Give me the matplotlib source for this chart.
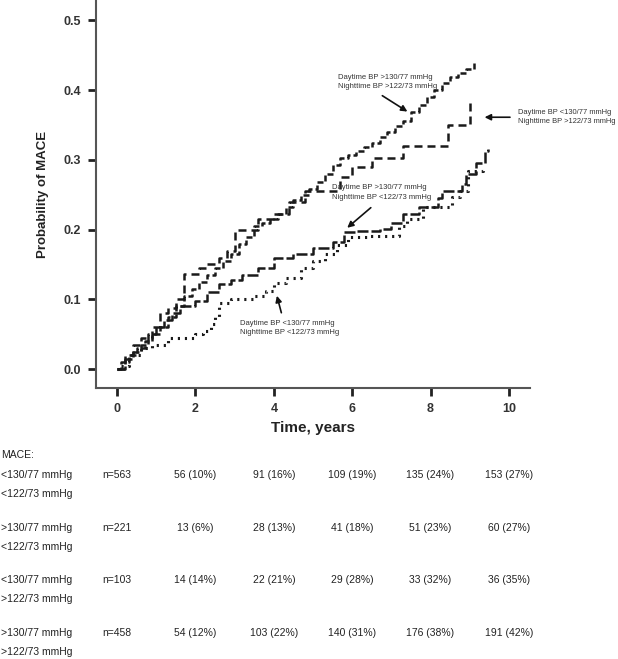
import matplotlib
matplotlib.use("Agg")
import matplotlib.pyplot as plt
from matplotlib.transforms import blended_transform_factory

plt.rcParams['font.family'] = ['Liberation Sans', 'DejaVu Sans']

# Kaplan-Meier style curves (time in years, cumulative probability of MACE)
t_hi_hi = [0, 0.1, 0.3, 0.5, 0.7, 0.9, 1.1, 1.3, 1.5, 1.7, 1.9, 2.1, 2.3, 2.5, 2.7, 2.9,
           3.1, 3.3, 3.5, 3.7, 3.9, 4.1, 4.3, 4.5, 4.7, 4.9, 5.1, 5.3, 5.5, 5.7, 5.9, 6.1,
           6.3, 6.5, 6.7, 6.9, 7.1, 7.3, 7.5, 7.7, 7.9, 8.1, 8.3, 8.5, 8.7, 8.9, 9.1]
p_hi_hi = [0, 0.01, 0.02, 0.03, 0.04, 0.05, 0.06, 0.075, 0.09, 0.105, 0.115, 0.125, 0.135,
           0.145, 0.155, 0.165, 0.18, 0.19, 0.205, 0.21, 0.215, 0.222, 0.232, 0.242, 0.25,
           0.258, 0.268, 0.28, 0.292, 0.302, 0.307, 0.312, 0.318, 0.324, 0.332, 0.34, 0.348,
           0.355, 0.368, 0.378, 0.39, 0.4, 0.41, 0.418, 0.425, 0.43, 0.44]

t_lo_hi = [0, 0.2, 0.4, 0.6, 0.9, 1.1, 1.3, 1.5, 1.7, 2.1, 2.3, 2.6, 2.8, 3.0, 3.6, 4.0,
           4.4, 4.8, 5.7, 6.0, 6.5, 7.3, 8.45, 9.02]
p_lo_hi = [0, 0.02, 0.035, 0.045, 0.06, 0.08, 0.088, 0.1, 0.136, 0.145, 0.15, 0.16, 0.17,
           0.2, 0.215, 0.222, 0.24, 0.255, 0.275, 0.29, 0.303, 0.32, 0.35, 0.383]

t_hi_lo = [0, 0.2, 0.4, 0.6, 0.8, 1.0, 1.2, 1.4, 1.6, 2.0, 2.3, 2.6, 2.9, 3.2, 3.6, 4.0,
           4.5, 5.0, 5.5, 5.8, 6.1, 6.7, 7.0, 7.3, 7.7, 8.2, 8.3, 8.8, 8.9, 9.15, 9.4, 9.47]
p_hi_lo = [0, 0.015, 0.025, 0.035, 0.05, 0.06, 0.07, 0.08, 0.09, 0.098, 0.11, 0.122, 0.128,
           0.135, 0.145, 0.16, 0.165, 0.174, 0.182, 0.196, 0.198, 0.201, 0.21, 0.222, 0.232,
           0.245, 0.255, 0.266, 0.28, 0.296, 0.313, 0.315]

t_lo_lo = [0, 0.1, 0.3, 0.6, 0.9, 1.3, 1.8, 2.0, 2.2, 2.4, 2.5, 2.6, 2.9, 3.5, 3.8, 4.0,
           4.3, 4.7, 5.0, 5.3, 5.6, 5.9, 6.4, 7.2, 7.4, 7.8, 8.55, 8.75, 8.95, 9.35]
p_lo_lo = [0, 0.005, 0.02, 0.03, 0.035, 0.045, 0.045, 0.05, 0.055, 0.065, 0.075, 0.095, 0.1,
           0.105, 0.112, 0.123, 0.13, 0.145, 0.155, 0.165, 0.178, 0.189, 0.191, 0.205, 0.215,
           0.232, 0.246, 0.255, 0.284, 0.287]

# table of events below the plot
table_times = [0, 2, 4, 6, 8, 10]
row_day = ["<130/77 mmHg", ">130/77 mmHg", "<130/77 mmHg", ">130/77 mmHg"]
row_night = ["<122/73 mmHg", "<122/73 mmHg", ">122/73 mmHg", ">122/73 mmHg"]
n_total = [563, 221, 103, 458]
events = [[56, 91, 109, 135, 153],
          [13, 28, 41, 51, 60],
          [14, 22, 29, 33, 36],
          [54, 103, 140, 176, 191]]
pcts = [[10, 16, 19, 24, 27],
        [6, 13, 18, 23, 27],
        [14, 21, 28, 32, 35],
        [12, 22, 31, 38, 42]]

W, H = 618, 659
fig = plt.figure(figsize=(W / 100, H / 100), dpi=100)
ax = fig.add_axes([96 / W, 1 - 388 / H, (530 - 96) / W, 388 / H])

lw = 1.8
col = '#1a1a1a'
ax.plot(t_hi_hi, p_hi_hi, drawstyle='steps-post', color=col, lw=lw, linestyle=(0, (2.4, 1.2)))
ax.plot(t_lo_hi, p_lo_hi, drawstyle='steps-post', color=col, lw=lw, linestyle=(0, (3.2, 2.0)))
ax.plot(t_hi_lo, p_hi_lo, drawstyle='steps-post', color=col, lw=lw, linestyle=(0, (4.4, 1.2)))
ax.plot(t_lo_lo, p_lo_lo, drawstyle='steps-post', color=col, lw=2.2, linestyle=(0, (0.7, 1.6)))

ax.set_xlim(-0.54, 10.54)
ax.set_ylim(-0.027, 0.529)
ax.set_xticks(table_times)
ax.set_yticks([0.0, 0.1, 0.2, 0.3, 0.4, 0.5])
ax.set_yticklabels(['0.0', '0.1', '0.2', '0.3', '0.4', '0.5'])
ax.tick_params(axis='both', direction='out', length=6, width=2, color='#222222',
               labelsize=9, labelcolor='#333333', pad=5)
for lab in ax.get_xticklabels() + ax.get_yticklabels():
    lab.set_fontweight('bold')
for s in ['top', 'right']:
    ax.spines[s].set_visible(False)
for s in ['left', 'bottom']:
    ax.spines[s].set_linewidth(1.5)
    ax.spines[s].set_color('#555555')

ax.set_xlabel('Time, years', fontsize=11, fontweight='bold', color='#222222', labelpad=4)
ax.set_ylabel('Probability of MACE', fontsize=9.5, fontweight='bold', color='#222222', labelpad=10)

# annotations
akw = dict(arrowstyle='-|>', color='#111111', lw=1.2, mutation_scale=9)
tkw = dict(fontsize=5.5, color='#333333', linespacing=1.45, clip_on=False)
ax.text(5.64, 0.411, 'Daytime BP >130/77 mmHg\nNighttime BP >122/73 mmHg', va='center', **tkw)
ax.annotate('', xy=(7.47, 0.367), xytext=(6.71, 0.394), arrowprops=akw)
ax.text(10.24, 0.361, 'Daytime BP <130/77 mmHg\nNighttime BP >122/73 mmHg', va='center',
        fontsize=5.4, color='#333333', linespacing=1.45, clip_on=False)
ax.annotate('', xy=(9.31, 0.361), xytext=(10.1, 0.361), arrowprops=akw, annotation_clip=False)
ax.text(5.48, 0.253, 'Daytime BP >130/77 mmHg\nNighttime BP <122/73 mmHg', va='center', **tkw)
ax.annotate('', xy=(5.82, 0.2), xytext=(6.53, 0.234), arrowprops=akw)
ax.text(3.14, 0.059, 'Daytime BP <130/77 mmHg\nNighttime BP <122/73 mmHg', va='center', **tkw)
ax.annotate('', xy=(4.06, 0.109), xytext=(4.21, 0.077), arrowprops=akw)

# table
tr = blended_transform_factory(ax.transData, fig.transFigure)
fs = 7.5
fig.text(0.002, 1 - 455 / H, 'MACE:', fontsize=fs, color='#222222', va='center')
row_px = [475, 528, 580, 633]
for i in range(4):
    y1 = 1 - row_px[i] / H
    y2 = 1 - (row_px[i] + 19) / H
    fig.text(0.002, y1, row_day[i], fontsize=fs, color='#222222', va='center')
    fig.text(0.002, y2, row_night[i], fontsize=fs, color='#222222', va='center')
    ax.text(table_times[0], y1, 'n=%d' % n_total[i], transform=tr, fontsize=fs,
            color='#222222', va='center', ha='center', clip_on=False)
    for j in range(5):
        ax.text(table_times[j + 1], y1, '%d (%d%%)' % (events[i][j], pcts[i][j]),
                transform=tr, fontsize=fs, color='#222222', va='center', ha='center',
                clip_on=False)

fig.savefig('out.png', dpi=100)
